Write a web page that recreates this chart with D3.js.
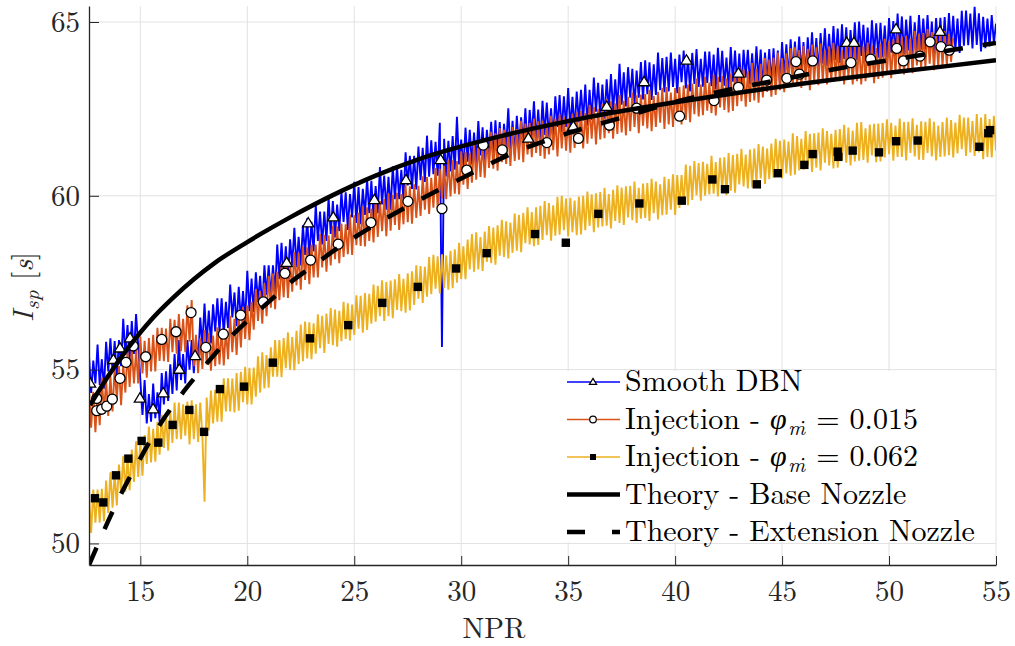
<!doctype html>
<html>
<head>
<meta charset="utf-8">
<script src="https://d3js.org/d3.v7.min.js"></script>
<style>
  body { margin: 0; background: #fff; }
  svg { display: block; }
</style>
</head>
<body>
<svg id="chart" width="1015" height="646"></svg>
<script>
// NPR sampling of the measured traces: 12.6, 12.7, ... (one row = 1 NPR)
const nprStart = 12.6, nprStep = 0.1;

// Isp [s] - Smooth DBN (12.6 .. 55.0)
const smoothDBN = [
  55.40,54.33,55.26,54.60,55.72,54.56,55.30,54.45,55.80,54.95,
  55.90,54.96,55.82,54.78,55.85,55.10,56.46,55.42,56.28,55.25,
  56.40,55.45,56.60,55.70,54.70,53.70,54.70,53.45,54.30,53.50,
  54.60,53.60,54.35,53.50,54.90,54.00,54.95,54.10,55.15,54.30,
  55.45,54.40,55.85,54.70,55.45,54.60,55.85,55.00,55.85,54.90,
  55.90,55.20,56.50,55.70,56.90,55.75,56.70,55.75,56.88,56.10,
  57.05,56.10,57.05,56.00,56.95,56.20,57.45,56.50,57.22,56.25,
  57.38,56.42,57.26,56.40,57.84,56.68,57.62,56.66,57.80,56.95,
  57.70,56.75,58.00,57.15,58.00,57.10,58.00,57.20,58.60,57.60,
  58.65,57.60,58.55,57.60,58.75,58.00,59.08,57.95,58.82,58.00,
  59.15,58.30,59.35,58.20,59.25,58.40,59.75,58.70,59.55,58.60,
  59.55,58.70,59.95,58.90,59.85,58.80,59.75,58.98,60.12,59.25,
  60.10,59.02,60.05,59.38,60.40,59.22,60.25,59.18,60.20,59.45,
  60.48,59.50,60.43,59.35,60.28,59.50,60.83,59.75,60.58,59.60,
  60.55,59.60,60.85,59.90,60.85,59.90,60.75,59.90,61.25,60.30,
  61.15,60.20,61.15,60.18,61.42,60.45,61.38,60.40,61.73,60.55,
  61.60,60.62,61.55,60.58,62.10,55.65,61.64,60.56,61.58,60.70,
  61.72,60.75,62.27,60.90,61.62,60.74,61.96,60.98,61.90,60.90,
  61.82,60.94,62.15,61.16,61.97,60.88,61.90,61.12,62.13,61.05,
  62.17,61.20,62.12,61.05,62.07,61.40,62.52,61.24,62.16,61.18,
  62.30,61.33,62.26,61.49,62.52,61.35,62.47,61.70,62.72,61.55,
  62.48,61.50,62.73,61.75,62.68,61.70,62.52,61.64,62.86,61.98,
  62.90,61.83,62.86,61.98,63.10,61.92,62.85,61.88,63.00,62.12,
  63.05,62.17,63.20,62.02,63.05,62.18,63.40,62.42,63.25,62.27,
  63.20,62.22,63.35,62.48,63.50,62.42,63.35,62.48,63.80,62.62,
  63.55,62.57,63.70,62.82,63.65,62.57,63.60,62.82,63.85,62.77,
  63.90,62.92,63.84,62.76,63.78,62.90,64.12,63.04,63.96,62.98,
  64.00,63.00,64.12,63.13,63.94,62.95,64.06,63.27,64.18,63.09,
  64.00,63.00,64.11,63.22,64.22,63.13,63.94,63.14,64.15,63.25,
  64.15,63.15,64.06,63.06,64.26,63.27,64.17,63.17,63.98,63.08,
  64.28,63.28,64.18,63.18,64.09,63.09,64.20,63.40,64.20,63.20,
  64.10,63.20,64.30,63.30,64.21,63.11,64.12,63.32,64.22,63.22,
  64.24,63.26,64.18,63.20,64.42,63.44,64.36,63.38,64.50,63.52,
  64.44,63.56,64.58,63.50,64.42,63.44,64.56,63.68,64.70,63.62,
  64.54,63.56,64.68,63.80,64.82,63.74,64.66,63.77,64.88,63.90,
  64.81,63.82,64.93,63.94,64.85,63.76,64.77,63.98,64.99,63.90,
  65.01,64.02,64.92,63.93,64.84,63.84,65.05,64.06,64.96,63.97,
  64.98,63.99,64.90,63.90,65.11,64.12,65.03,64.03,65.24,64.15,
  65.16,64.07,65.07,64.18,65.18,63.99,64.99,64.10,65.20,64.20,
  65.10,64.20,65.20,64.10,65.01,64.01,65.11,64.21,65.12,64.12,
  65.14,64.15,65.26,64.27,65.18,64.19,65.10,64.11,65.32,64.32,
  65.33,64.33,65.24,64.24,65.44,64.34,65.25,64.15,65.15,64.25,
  65.10,64.30,65.20,64.40,64.95
];

// Isp [s] - Injection, phi = 0.015 (12.6 .. 53.0)
const injection015 = [
  54.40,53.33,54.36,53.20,54.35,53.40,54.77,53.74,54.70,53.67,
  54.83,53.80,55.06,54.13,55.10,53.98,55.16,54.34,55.52,54.50,
  55.65,54.60,55.55,54.60,55.95,54.89,55.83,54.77,55.91,54.95,
  56.00,54.95,56.20,55.25,56.20,55.24,56.18,55.22,56.46,55.50,
  56.43,55.46,56.60,55.53,56.46,55.50,56.85,55.80,57.00,55.10,
  56.00,54.90,55.90,55.02,56.14,55.15,56.06,54.97,55.98,55.10,
  56.22,55.15,56.18,55.12,56.16,55.30,56.55,55.50,56.46,55.42,
  56.58,55.64,56.80,55.88,56.85,55.85,56.95,56.15,57.32,56.40,
  57.26,56.32,57.48,56.54,57.70,56.78,57.76,56.74,57.82,57.00,
  58.04,57.08,58.22,57.06,58.10,57.24,58.38,57.42,58.36,57.30,
  58.54,57.58,58.52,57.46,58.60,57.65,58.60,57.65,58.90,57.94,
  58.88,57.82,58.86,58.00,59.14,58.18,59.12,58.06,59.20,58.24,
  59.18,58.32,59.46,58.30,59.44,58.58,59.52,58.56,59.70,58.54,
  59.67,58.70,59.63,58.66,59.89,58.82,59.85,58.98,59.91,58.84,
  60.07,59.00,60.03,59.16,60.09,59.02,60.05,59.18,60.31,59.24,
  60.27,59.20,60.33,59.36,60.29,59.42,60.56,59.60,60.54,59.48,
  60.52,59.66,60.80,59.64,60.78,59.92,60.86,59.90,61.04,59.98,
  61.02,60.06,61.00,60.04,61.28,60.32,61.26,60.20,61.24,60.38,
  61.52,60.46,61.50,60.54,61.48,60.52,61.66,60.80,61.84,60.78,
  61.80,60.72,61.95,60.97,61.90,60.92,61.84,60.86,61.98,61.00,
  61.92,61.04,62.16,60.97,62.08,61.19,62.10,61.11,62.22,61.23,
  62.14,61.15,62.16,61.07,62.08,61.19,62.30,61.31,62.22,61.13,
  62.34,61.36,62.28,61.30,62.22,61.24,62.36,61.38,62.40,61.52,
  62.44,61.36,62.38,61.50,62.62,61.64,62.56,61.48,62.50,61.62,
  62.64,61.66,62.78,61.80,62.72,61.64,62.66,61.78,62.90,61.82,
  62.73,61.74,62.85,61.86,62.97,61.98,62.89,61.80,62.91,62.02,
  62.93,61.94,63.05,61.86,62.87,61.98,62.99,62.10,63.11,61.92,
  63.13,62.05,62.97,61.98,63.10,62.22,63.13,62.05,63.17,62.18,
  63.20,62.12,63.23,62.35,63.37,62.28,63.20,62.32,63.43,62.45,
  63.26,62.38,63.49,62.31,63.42,62.54,63.45,62.47,63.38,62.40,
  63.52,62.44,63.56,62.58,63.70,62.72,63.64,62.56,63.58,62.70,
  63.82,62.74,63.66,62.68,63.80,62.83,63.96,62.99,63.92,62.85,
  63.98,62.90,64.12,63.04,63.96,62.98,64.10,63.22,64.24,63.16,
  64.27,63.18,64.19,63.10,64.31,63.32,64.23,63.04,64.35,63.26,
  64.27,63.18,64.38,63.29,64.19,63.20,64.30,63.30,64.40,63.40,
  64.30,63.30,64.20,63.20,64.40,63.40,64.30,63.20,64.30,63.30,
  64.40,63.20,64.30,63.30,64.41,63.42,64.33,63.24,64.25,63.36,
  64.38,63.40,64.52,63.54,64.46,63.38,64.50,63.52,64.64,63.56,
  64.58,63.49,64.60,63.61,64.52,63.53,64.74,63.75,64.66,63.67,
  64.68,63.69,64.80,63.80,64.71,63.61,64.62,63.72,64.73,63.73,
  64.74,63.74,64.65,63.85,64.55
];

// Isp [s] - Injection, phi = 0.062 (12.6 .. 55.0)
const injection062 = [
  51.35,50.30,51.55,50.60,51.55,50.60,51.57,50.64,51.81,50.88,
  52.05,51.03,52.01,51.09,52.27,51.45,52.52,51.49,52.46,51.53,
  52.70,51.77,52.94,51.91,52.88,51.95,53.12,52.29,53.36,52.33,
  53.30,52.35,53.50,52.55,53.70,52.75,53.71,52.67,53.83,52.89,
  54.05,53.00,54.05,53.00,54.00,53.10,54.08,52.85,54.12,53.00,
  54.00,52.92,54.05,53.10,51.20,54.20,53.25,54.40,53.45,54.42,
  53.50,54.55,53.50,54.75,53.80,54.75,53.80,54.74,53.77,54.90,
  53.82,54.94,54.06,55.08,54.00,55.05,54.00,55.06,54.22,55.38,
  54.34,55.50,54.46,55.42,54.48,55.64,54.80,55.85,54.80,55.85,
  54.78,55.91,55.04,56.07,55.00,55.94,54.98,56.12,55.16,56.30,
  55.24,56.38,55.32,56.36,55.30,56.33,55.46,56.59,55.62,56.55,
  55.48,56.61,55.74,56.77,55.70,56.73,55.66,56.69,55.82,56.95,
  55.88,56.91,55.84,56.87,56.00,57.14,56.18,57.12,56.06,57.20,
  56.14,57.18,56.32,57.45,56.38,57.41,56.54,57.57,56.40,57.52,
  56.54,57.56,56.48,57.60,56.72,57.75,56.68,57.61,56.64,57.77,
  56.70,57.83,56.86,58.00,57.04,57.98,56.92,57.96,57.10,58.24,
  57.17,58.30,57.33,58.26,57.19,58.32,57.35,58.28,57.30,58.42,
  57.34,58.46,57.50,58.65,57.60,58.55,57.60,58.74,57.88,58.90,
  57.82,58.95,57.88,58.81,57.84,58.97,58.10,59.13,58.06,59.09,
  58.02,59.15,58.28,59.31,58.24,59.27,58.20,59.23,58.36,59.49,
  58.42,59.45,58.38,59.51,58.64,59.67,58.60,59.53,58.55,59.67,
  58.59,59.71,58.73,59.85,58.87,59.79,58.71,59.73,58.85,59.97,
  58.88,60.00,59.01,59.92,58.83,59.94,58.95,59.86,58.87,59.98,
  58.89,60.00,59.01,60.12,59.13,60.04,58.95,60.07,59.09,60.11,
  59.12,60.23,59.14,60.05,59.06,60.17,59.28,60.30,59.22,60.24,
  59.16,60.27,59.38,60.29,59.30,60.41,59.22,60.23,59.34,60.35,
  59.36,60.37,59.28,60.49,59.50,60.41,59.32,60.33,59.44,60.55,
  59.46,60.48,59.60,60.62,59.45,60.60,59.65,60.60,59.75,60.90,
  59.73,60.86,59.88,61.00,60.02,60.94,59.86,60.98,60.00,60.92,
  60.04,61.15,60.06,60.97,59.98,61.09,60.20,61.11,60.02,61.23,
  60.15,61.17,60.09,61.21,60.33,61.35,60.27,61.19,60.21,61.33,
  60.24,61.36,60.37,61.49,60.50,61.42,60.34,61.36,60.48,61.50,
  60.52,61.64,60.66,61.58,60.50,61.62,60.64,61.56,60.58,61.80,
  60.61,61.72,60.73,61.64,60.75,61.86,60.87,61.78,60.69,61.80,
  60.81,61.82,60.73,61.94,60.95,61.86,60.87,61.78,60.79,61.90,
  60.81,61.92,61.03,62.04,60.95,61.96,60.87,61.88,60.99,62.10,
  61.01,62.12,61.03,61.94,60.95,62.05,61.16,62.07,60.97,62.08,
  60.99,62.09,61.10,62.20,61.20,62.10,61.01,62.02,61.12,62.22,
  61.12,62.12,61.02,62.13,61.23,62.23,61.13,62.04,61.04,62.14,
  61.03,62.13,61.23,62.23,61.13,62.13,61.02,62.02,61.12,62.12,
  61.13,62.25,61.17,62.18,61.10,62.11,61.22,62.33,61.34,62.25,
  61.15,62.25,61.25,62.15,61.15,62.35,61.25,62.25,61.05,62.35,
  61.12,62.21,61.10,62.30,61.30
];

// marker points [NPR, Isp]
const markersDBN = [[12.65,54.6],[13.74,55.28],[14.05,55.61],[14.52,55.9],[14.98,54.17],[15.6,53.86],
  [16.07,54.32],[16.82,55.0],[17.56,55.39],[21.84,58.07],[22.85,59.21],[24.02,59.38],[25.94,59.88],
  [27.42,60.45],[29.04,61.03],[31.03,61.51],[33.14,61.65],[35.24,61.99],[36.8,62.56],[38.55,63.27],
  [40.53,63.89],[42.96,63.52],[48.02,64.4],[48.36,64.4],[50.33,64.79],[52.38,64.72]];
const markers015 = [[12.96,54.17],[12.96,53.82],[13.19,53.86],[13.43,53.95],[13.69,54.15],[14.05,54.75],
  [14.33,55.21],[14.67,55.68],[15.25,55.37],[16.0,55.87],[16.67,56.09],[17.37,56.64],[18.06,55.64],
  [18.88,56.02],[19.69,56.57],[20.75,56.95],[21.76,57.77],[22.96,58.15],[24.25,58.61],[25.78,59.23],
  [27.51,59.84],[29.1,59.63],[30.26,60.74],[31.03,61.46],[31.92,61.32],[34.0,61.53],[35.48,61.65],
  [36.93,62.03],[38.2,62.52],[40.21,62.29],[41.82,62.74],[42.96,63.12],[44.28,63.33],[45.22,63.38],
  [45.65,63.86],[45.81,63.5],[46.43,63.88],[48.22,63.83],[49.14,63.93],[50.36,64.24],[50.67,63.88],
  [51.45,64.02],[51.92,64.43],[52.43,64.29],[52.82,64.19]];
const markers062 = [[12.88,51.3],[13.27,51.18],[13.86,51.96],[14.44,52.44],[15.06,52.95],[15.84,52.9],
  [16.51,53.41],[17.29,53.84],[17.98,53.21],[18.72,54.44],[19.85,54.51],[21.19,55.2],[22.93,55.9],
  [24.72,56.28],[26.31,56.92],[27.97,57.38],[29.76,57.91],[31.19,58.35],[33.45,58.9],[34.89,58.65],
  [36.41,59.48],[38.33,59.78],[40.31,59.86],[41.74,60.47],[42.33,60.19],[43.82,60.33],[44.8,60.65],
  [46.04,60.89],[46.43,61.2],[47.6,61.27],[47.63,61.12],[48.3,61.3],[49.53,61.25],[50.33,61.57],
  [51.34,61.59],[54.22,61.41],[54.64,61.8],[54.72,61.89]];

// theory curves [NPR, Isp]
const theoryBase = [[12.65,53.98],[13.5,54.82],[14.5,55.68],[15.5,56.43],[16.5,57.05],[17.5,57.6],
  [18.5,58.08],[20,58.67],[22,59.38],[24,60.02],[26,60.58],[28,61.05],[30,61.42],[32,61.74],[34,62.02],
  [36,62.27],[38,62.49],[40,62.69],[42,62.88],[44,63.06],[46,63.23],[48,63.39],[50,63.54],[52,63.68],
  [55,63.9]];
const theoryExt = [[12.6,49.38],[13,49.95],[13.5,50.65],[14,51.3],[14.5,51.9],[15,52.45],[15.5,53.0],
  [16,53.5],[17,54.35],[18,55.1],[19,55.8],[20,56.4],[21,56.95],[22,57.5],[23,57.95],[24,58.4],[25,58.8],
  [27.5,59.7],[30,60.5],[32.5,61.25],[35,61.8],[37.5,62.25],[40,62.7],[42.5,63.05],[45,63.35],
  [47.5,63.65],[50,63.9],[52.5,64.15],[55,64.4]];

const xTicks = [15, 20, 25, 30, 35, 40, 45, 50, 55];
const yTicks = [50, 55, 60, 65];

const FONT = '"Latin Modern Roman"';
const pL = 89, pR = 996, pT = 6, pB = 565;
const x = d3.scaleLinear().domain([12.6, 55]).range([pL, pR]);
const y = d3.scaleLinear().domain([49.38, 65.46]).range([pB, pT]);
const svg = d3.select("#chart");

svg.append("defs").append("clipPath").attr("id", "plot")
  .append("rect").attr("x", pL).attr("y", pT).attr("width", pR - pL).attr("height", pB - pT);

// grid
const grid = svg.append("g").attr("stroke", "#e2e2e2").attr("stroke-width", 1);
grid.selectAll("line.gx").data(xTicks).join("line").attr("class", "gx")
  .attr("x1", d => x(d)).attr("x2", d => x(d)).attr("y1", pT).attr("y2", pB);
grid.selectAll("line.gy").data(yTicks).join("line").attr("class", "gy")
  .attr("x1", pL).attr("x2", pR).attr("y1", d => y(d)).attr("y2", d => y(d));

const plot = svg.append("g").attr("clip-path", "url(#plot)");

// noisy measured traces
const series = [
  {values: smoothDBN, color: "#0000ff"},
  {values: injection015, color: "#d95319"},
  {values: injection062, color: "#edb120"}
];
const trace = d3.line().x((d, i) => x(nprStart + i * nprStep)).y(d => y(d));
plot.selectAll("path.trace").data(series).join("path").attr("class", "trace")
  .attr("d", d => trace(d.values))
  .attr("fill", "none").attr("stroke", d => d.color)
  .attr("stroke-width", 1.9).attr("stroke-linejoin", "miter");

// markers
const tri = "M0,-5.8L5.6,3.6L-5.6,3.6Z";
plot.append("g").selectAll("path").data(markersDBN).join("path")
  .attr("d", tri).attr("transform", d => `translate(${x(d[0])},${y(d[1])})`)
  .attr("fill", "#fff").attr("stroke", "#000").attr("stroke-width", 1.3);
plot.append("g").selectAll("circle").data(markers015).join("circle")
  .attr("cx", d => x(d[0])).attr("cy", d => y(d[1])).attr("r", 5)
  .attr("fill", "#fff").attr("stroke", "#000").attr("stroke-width", 1.3);
plot.append("g").selectAll("rect").data(markers062).join("rect")
  .attr("x", d => x(d[0]) - 4.2).attr("y", d => y(d[1]) - 4.2)
  .attr("width", 8.4).attr("height", 8.4).attr("fill", "#000");

// theory
const curve = d3.line().x(d => x(d[0])).y(d => y(d[1])).curve(d3.curveMonotoneX);
plot.append("path").attr("d", curve(theoryBase))
  .attr("fill", "none").attr("stroke", "#000").attr("stroke-width", 4.5);
plot.append("path").attr("d", curve(theoryExt))
  .attr("fill", "none").attr("stroke", "#000").attr("stroke-width", 4.5)
  .attr("stroke-dasharray", "19,20");

// axes
const styleAxis = g => {
  g.attr("font-family", null).attr("font-size", 29).attr("color", "#262626");
  g.select(".domain").attr("stroke-width", 1.3);
  g.selectAll(".tick text").attr("fill", "#262626").style("font-family", FONT);
};
svg.append("g").attr("transform", `translate(0,${pB})`)
  .call(d3.axisBottom(x).tickValues(xTicks).tickSizeInner(-9).tickSizeOuter(0).tickPadding(15))
  .call(styleAxis);
svg.append("g").attr("transform", `translate(${pL},0)`)
  .call(d3.axisLeft(y).tickValues(yTicks).tickSizeInner(-10).tickSizeOuter(0).tickPadding(9))
  .call(styleAxis);

// axis labels
svg.append("text").attr("x", 494).attr("y", 638).attr("text-anchor", "middle")
  .style("font-family", FONT).attr("font-size", 29).attr("fill", "#262626").text("NPR");
const yl = svg.append("text").attr("transform", "translate(33,287) rotate(-90)")
  .style("font-family", FONT).attr("text-anchor", "middle").attr("font-size", 29).attr("fill", "#262626");
yl.append("tspan").attr("font-style", "italic").text("I");
yl.append("tspan").attr("font-style", "italic").attr("font-size", 21).attr("dy", 6).attr("dx", 1).text("sp");
yl.append("tspan").attr("dy", -6).attr("dx", 1).text(" [");
yl.append("tspan").attr("font-style", "italic").text("s");
yl.append("tspan").text("]");

// legend
const legend = svg.append("g");
legend.append("rect").attr("x", 558).attr("y", 371).attr("width", 434).attr("height", 171).attr("fill", "#fff");
const rows = [
  {color: "#0000ff", w: 1.5, marker: "tri", parts: [["Smooth DBN"]]},
  {color: "#d95319", w: 1.5, marker: "circle", parts: [["Injection - "], ["φ", "i"], ["ṁ", "sub"], [" = 0.015"]]},
  {color: "#edb120", w: 1.5, marker: "square", parts: [["Injection - "], ["φ", "i"], ["ṁ", "sub"], [" = 0.062"]]},
  {color: "#000", w: 4.5, parts: [["Theory - Base Nozzle"]]},
  {color: "#000", w: 4.5, dash: "18,27", parts: [["Theory - Extension Nozzle"]]}
];
rows.forEach((r, i) => {
  const ry = 382 + i * 37.5;
  legend.append("line").attr("x1", 567).attr("x2", 620).attr("y1", ry).attr("y2", ry)
    .attr("stroke", r.color).attr("stroke-width", r.w).attr("stroke-dasharray", r.dash || null);
  if (r.marker === "tri") {
    legend.append("path").attr("d", "M0,-3.6L3.6,2.4L-3.6,2.4Z").attr("transform", `translate(593,${ry})`)
      .attr("fill", "#fff").attr("stroke", "#000").attr("stroke-width", 1.2);
  } else if (r.marker === "circle") {
    legend.append("circle").attr("cx", 593).attr("cy", ry).attr("r", 3.3)
      .attr("fill", "#fff").attr("stroke", "#000").attr("stroke-width", 1.2);
  } else if (r.marker === "square") {
    legend.append("rect").attr("x", 590).attr("y", ry - 3).attr("width", 6).attr("height", 6).attr("fill", "#000");
  }
  const t = legend.append("text").attr("x", 625).attr("y", ry + 9).style("font-family", FONT)
    .attr("font-size", 30).attr("fill", "#000");
  r.parts.forEach(p => {
    const s = t.append("tspan").text(p[0]);
    if (p[1] === "i") s.attr("font-style", "italic");
    if (p[1] === "sub") s.attr("font-style", "italic").attr("font-size", 21).attr("dy", 6).attr("dx", 1.5);
    if (p[0].startsWith(" =")) s.attr("dy", -6).attr("dx", 1);
  });
});
</script>
</body>
</html>
